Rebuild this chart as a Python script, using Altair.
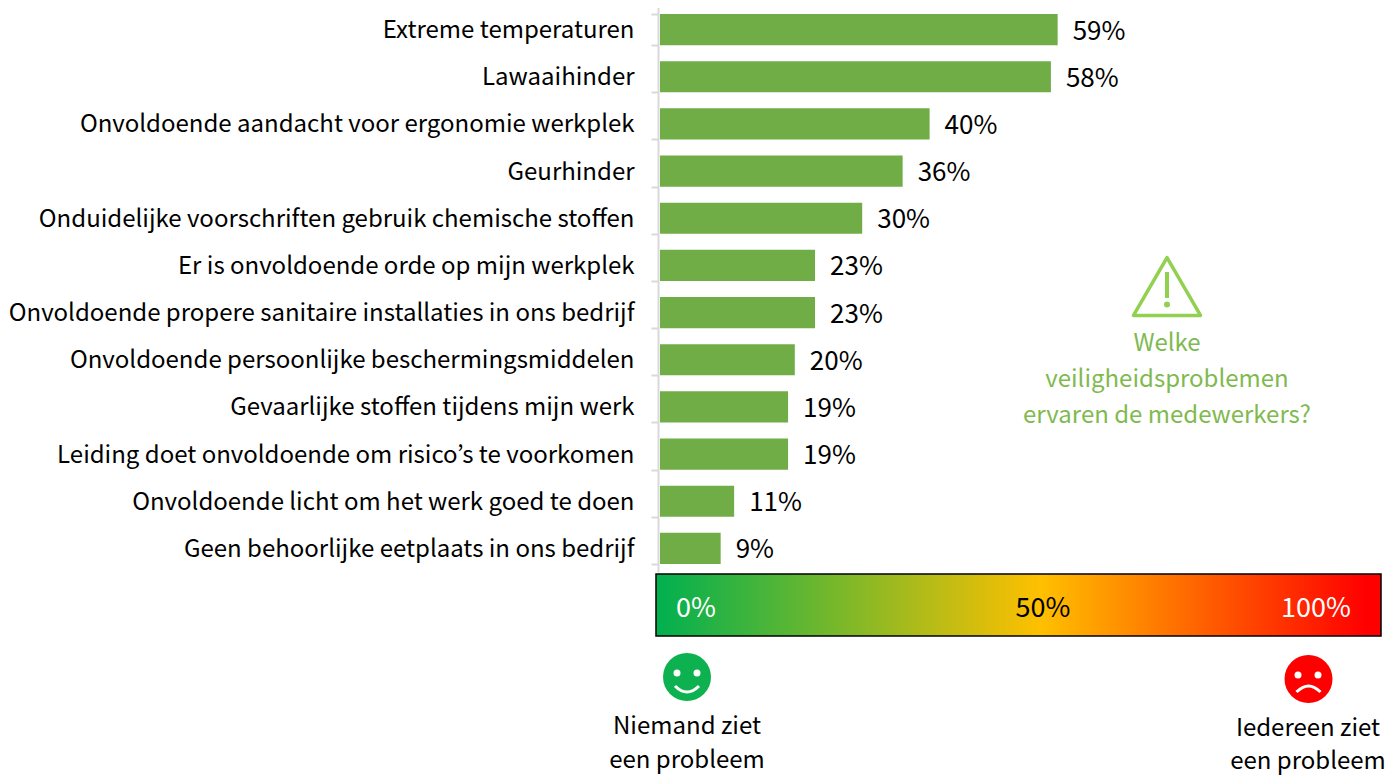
import altair as alt
import pandas as pd

FONT = "Noto Sans CJK KR"
categories = [
    "Extreme temperaturen", "Lawaaihinder", "Onvoldoende aandacht voor ergonomie werkplek",
    "Geurhinder", "Onduidelijke voorschriften gebruik chemische stoffen",
    "Er is onvoldoende orde op mijn werkplek",
    "Onvoldoende propere sanitaire installaties in ons bedrijf",
    "Onvoldoende persoonlijke beschermingsmiddelen", "Gevaarlijke stoffen tijdens mijn werk",
    "Leiding doet onvoldoende om risico’s te voorkomen",
    "Onvoldoende licht om het werk goed te doen", "Geen behoorlijke eetplaats in ons bedrijf",
]
values = [59, 58, 40, 36, 30, 23, 23, 20, 19, 19, 11, 9]

OX, OY = 658, 8  # plot origin on the page


def px(x):
    return alt.value(x - OX)


def py(y):
    return alt.value(y - OY)


df = pd.DataFrame({"cat": categories, "v": values, "label": [f"{v}%" for v in values]})
yscale = alt.Scale(domain=categories, range=[-2, 564], paddingInner=0.34, paddingOuter=0.17)
xscale = alt.Scale(domain=[0, 100], range=[2, 676])

bars = alt.Chart(df).mark_bar(color="#70ad47").encode(
    x=alt.X("v:Q", scale=xscale, axis=None),
    y=alt.Y("cat:N", scale=yscale, sort=categories, title=None, axis=alt.Axis(
        domainColor="#d9d9d9", domainWidth=2, tickColor="#d9d9d9", tickWidth=2, tickSize=7,
        tickBand="extent", labelFont=FONT, labelFontSize=24, labelColor="#000000",
        labelPadding=17, labelLimit=700, labelOffset=1, grid=False)),
)
bar_labels = alt.Chart(df).mark_text(align="left", baseline="middle", dx=15, dy=2, font=FONT, fontSize=26, color="#000000").encode(
    x=alt.X("v:Q", scale=xscale), y=alt.Y("cat:N", scale=yscale, sort=categories), text="label:N")

one = pd.DataFrame({"a": [0]})
gradient = alt.LinearGradient(gradient="linear", x1=0, x2=1, y1=0, y2=0, stops=[
    alt.GradientStop(offset=0.0, color="#00b050"),
    alt.GradientStop(offset=0.53, color="#ffc000"),
    alt.GradientStop(offset=0.98, color="#ff0000"),
])
band = alt.Chart(one).mark_rect(fill=gradient, stroke="#000000", strokeWidth=1.5).encode(
    x=px(656), x2=px(1381), y=py(574), y2=py(636))


def texts(rows, color, size=24):
    layers = []
    for t, x, y in rows:
        layers.append(alt.Chart(pd.DataFrame({"t": [t]})).mark_text(
            font=FONT, fontSize=size, color=color, align="center", baseline="middle").encode(
            x=px(x), y=py(y), text="t:N"))
    return layers


def shape(path, x, y, size, **kw):
    return alt.Chart(one).mark_point(shape=path, size=size, **kw).encode(x=px(x), y=py(y))


SMILE = "M-1,-0.25 Q0,0.75 1,-0.25"
FROWN = "M-1,0.25 Q0,-0.75 1,0.25"
TRIANGLE = "M0,-0.85 L1,0.88 L-1,0.88 Z"
BAR = "M0,-1 L0,1"

icons = [
    shape("circle", 687, 677, 2304, filled=True, fill="#0eb14f", opacity=1, strokeWidth=0),
    shape("circle", 677, 673, 49, filled=True, fill="#ffffff", opacity=1, strokeWidth=0),
    shape("circle", 697, 673, 49, filled=True, fill="#ffffff", opacity=1, strokeWidth=0),
    shape(SMILE, 687, 689, 576, filled=False, stroke="#ffffff", strokeWidth=3, opacity=1),
    shape("circle", 1308.5, 679, 2304, filled=True, fill="#ff0000", opacity=1, strokeWidth=0),
    shape("circle", 1298, 675, 49, filled=True, fill="#ffffff", opacity=1, strokeWidth=0),
    shape("circle", 1318, 675, 49, filled=True, fill="#ffffff", opacity=1, strokeWidth=0),
    shape(FROWN, 1308.5, 689, 576, filled=False, stroke="#ffffff", strokeWidth=3, opacity=1),
    shape(TRIANGLE, 1167, 286, 4489, filled=False, stroke="#92d050", strokeWidth=3.5, opacity=1, strokeJoin="round"),
    shape(BAR, 1167, 285, 676, filled=False, stroke="#92d050", strokeWidth=4, opacity=1),
    shape("circle", 1167, 304.5, 36, filled=True, fill="#92d050", opacity=1, strokeWidth=0),
]

layers = [bars, bar_labels, band] + icons
layers += texts([("0%", 696, 609), ("100%", 1316, 609)], "#ffffff", 27)
layers += texts([("50%", 1043, 609)], "#000000", 27)
layers += texts([("Niemand ziet", 687, 727), ("een probleem", 687, 761),
                 ("Iedereen ziet", 1308, 729), ("een probleem", 1308, 762)], "#000000")
layers += texts([("Welke", 1167, 344), ("veiligheidsproblemen", 1167, 380),
                 ("ervaren de medewerkers?", 1167, 416)], "#7fba50")

chart = alt.layer(*layers).properties(
    width=734, height=564,
    autosize=alt.AutoSizeParams(type="none"),
    padding={"left": 650, "top": 0, "right": 0, "bottom": 203},
).configure_view(stroke=None)

chart.save("out.html", embed_options={"renderer": "svg", "actions": False})
